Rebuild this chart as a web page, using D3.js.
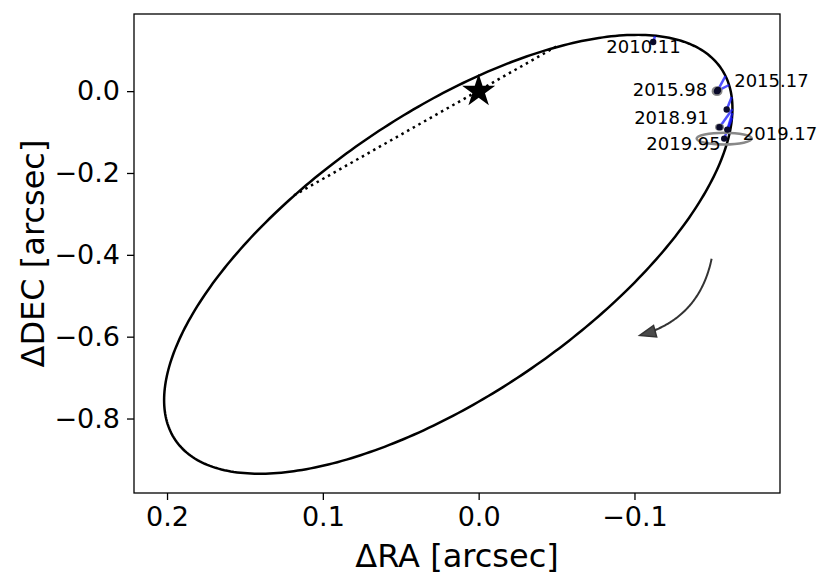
<!DOCTYPE html>
<html>
<head>
<meta charset="utf-8">
<script src="https://cdn.jsdelivr.net/npm/d3@7"></script>
<style>
  html, body { margin: 0; padding: 0; background: #fff; }
  svg { display: block; font-family: "DejaVu Sans", sans-serif; }
</style>
</head>
<body>
<svg id="chart" width="831" height="587"></svg>
<script>
// ---------------- data ----------------
const xLimits = [0.2212, -0.1934];
const yLimits = [0.1885, -0.982];
const xTicks = [0.2, 0.1, 0.0, -0.1];
const yTicks = [0.0, -0.2, -0.4, -0.6, -0.8];
const xLabel = "ΔRA [arcsec]";
const yLabel = "ΔDEC [arcsec]";

// projected orbit (apparent ellipse)
const orbitCenter = [0.0195, -0.3987];   // RA, DEC of ellipse centre
const orbitAxes   = [0.5506, 0.1327];    // semi-major, semi-minor [arcsec]
const orbitPA     = [346.46];            // position angle of major axis [deg]

// line of nodes (dotted)
const nodesRA  = [0.1185, -0.0503];
const nodesDEC = [-0.2545, 0.1100];

// observations
const epochs   = ["2010.11", "2015.17", "2015.98", "", "2018.91", "2019.17", "2019.95"];
const obsRA    = [-0.112, -0.1536, -0.1530, -0.1592, -0.1546, -0.1596, -0.1576];
const obsDEC   = [0.120, 0.003, 0.000, -0.045, -0.088, -0.094, -0.116];
const errRA    = [0.001, 0.002, 0.0027, 0.001, 0.0021, 0.001, 0.0177];
const errDEC   = [0.002, 0.004, 0.0090, 0.002, 0.0057, 0.002, 0.0143];
// predicted positions on the orbit for each epoch
const predRA   = [-0.1132, -0.1584, -0.1607, -0.1624, -0.1629, -0.1628, -0.1626];
const predDEC  = [0.1347, 0.0370, 0.0150, -0.0143, -0.0437, -0.0534, -0.0657];
// label anchor positions (data coordinates)
const labelRA  = [-0.1058, -0.1879, -0.1228, 0, -0.1237, -0.1934, -0.1315];
const labelDEC = [0.1094, 0.0260, 0.0040, 0, -0.0650, -0.1035, -0.1290];

// star position
const starRA = [0.0], starDEC = [0.0];

// direction-of-motion arrow: [from, to]
const arrowRA  = [-0.15, -0.10];
const arrowDEC = [-0.40, -0.60];

// ---------------- drawing ----------------
const svg = d3.select("#chart");
const L = 134, R = 780, T = 14, B = 493;
const x = d3.scaleLinear().domain(xLimits).range([L, R]);
const y = d3.scaleLinear().domain(yLimits).range([T, B]);

const minus = s => s.replace("-", "\u2212");

// orbit ellipse
{
  const pa = orbitPA[0] * Math.PI / 180;
  const e1 = [Math.sin(pa), Math.cos(pa)];
  const e2 = [Math.cos(pa), -Math.sin(pa)];
  const pts = d3.range(0, 2 * Math.PI, Math.PI / 180).map(t => {
    const ra = orbitCenter[0] + orbitAxes[0] * Math.cos(t) * e1[0] + orbitAxes[1] * Math.sin(t) * e2[0];
    const de = orbitCenter[1] + orbitAxes[0] * Math.cos(t) * e1[1] + orbitAxes[1] * Math.sin(t) * e2[1];
    return [x(ra), y(de)];
  });
  svg.append("path")
    .attr("d", d3.line()(pts) + "Z")
    .attr("fill", "none").attr("stroke", "#000").attr("stroke-width", 2.5);
}

// line of nodes
svg.append("line")
  .attr("x1", x(nodesRA[0])).attr("y1", y(nodesDEC[0]))
  .attr("x2", x(nodesRA[1])).attr("y2", y(nodesDEC[1]))
  .attr("stroke", "#000").attr("stroke-width", 2.5)
  .attr("stroke-dasharray", "2.5,4");

// residual lines
epochs.forEach((e, i) => {
  svg.append("line")
    .attr("x1", x(obsRA[i])).attr("y1", y(obsDEC[i]))
    .attr("x2", x(predRA[i])).attr("y2", y(predDEC[i]))
    .attr("stroke", "rgba(20,20,255,0.75)").attr("stroke-width", 2.5);
});

// error ellipses
epochs.forEach((e, i) => {
  svg.append("ellipse")
    .attr("cx", x(obsRA[i])).attr("cy", y(obsDEC[i]))
    .attr("rx", Math.abs(x(errRA[i]) - x(0)))
    .attr("ry", Math.abs(y(errDEC[i]) - y(0)))
    .attr("fill", "none").attr("stroke", "#888").attr("stroke-width", 2.5);
});

// observed points
epochs.forEach((e, i) => {
  svg.append("circle")
    .attr("cx", x(obsRA[i])).attr("cy", y(obsDEC[i])).attr("r", 3.2)
    .attr("fill", "#0a0a2a");
});

// star
svg.append("path")
  .attr("d", d3.symbol().type(d3.symbolStar).size(340)())
  .attr("transform", `translate(${x(starRA[0])},${y(starDEC[0])})`)
  .attr("fill", "#000");

// labels
epochs.forEach((e, i) => {
  if (!e) return;
  svg.append("text")
    .attr("x", x(labelRA[i])).attr("y", y(labelDEC[i]))
    .attr("text-anchor", "middle").attr("dominant-baseline", "central")
    .attr("font-size", 18).attr("fill", "#000")
    .text(e);
});

// arrow (arc3-style quadratic curve)
{
  const x1 = x(arrowRA[0]), y1 = y(arrowDEC[0]);
  const x2 = x(arrowRA[1]), y2 = y(arrowDEC[1]);
  const rad = -0.33;
  const dx = x2 - x1, dyUp = -(y2 - y1);
  const cx = (x1 + x2) / 2 + rad * dyUp;
  const cy = (y1 + y2) / 2 + rad * dx;
  const q = (t) => [
    (1 - t) * (1 - t) * x1 + 2 * (1 - t) * t * cx + t * t * x2,
    (1 - t) * (1 - t) * y1 + 2 * (1 - t) * t * cy + t * t * y2
  ];
  const tipT = 0.96, startT = 0.03;
  const tip = q(tipT);
  const prev = q(tipT - 0.001);
  let ux = tip[0] - prev[0], uy = tip[1] - prev[1];
  const n = Math.hypot(ux, uy); ux /= n; uy /= n;
  const headLen = 16, headW = 6;
  const base = [tip[0] - ux * headLen, tip[1] - uy * headLen];
  let tb = tipT;
  while (tb > 0 && Math.hypot(q(tb)[0] - tip[0], q(tb)[1] - tip[1]) < headLen - 1) tb -= 0.002;
  const pts = d3.range(startT, tb + 1e-9, 0.01).map(q);
  pts.push(q(tb));
  svg.append("path")
    .attr("d", d3.line()(pts))
    .attr("fill", "none").attr("stroke", "#333").attr("stroke-width", 2);
  svg.append("path")
    .attr("d", d3.line()([
      tip,
      [base[0] - uy * headW, base[1] + ux * headW],
      [base[0] + uy * headW, base[1] - ux * headW]
    ]) + "Z")
    .attr("fill", "#4a4a4a").attr("stroke", "#333").attr("stroke-width", 1.5)
    .attr("stroke-linejoin", "miter");
}

// frame
svg.append("rect").attr("x", L).attr("y", T).attr("width", R - L).attr("height", B - T)
  .attr("fill", "none").attr("stroke", "#000").attr("stroke-width", 1.3);

// axes
const xAxis = d3.axisBottom(x).tickValues(xTicks).tickSize(7).tickPadding(7)
  .tickFormat(d => minus(d3.format(".1f")(d)));
const gx = svg.append("g").attr("transform", `translate(0,${B})`).call(xAxis);
const yAxis = d3.axisLeft(y).tickValues(yTicks).tickSize(7).tickPadding(7)
  .tickFormat(d => minus(d3.format(".1f")(d)));
const gy = svg.append("g").attr("transform", `translate(${L},0)`).call(yAxis);
[gx, gy].forEach(g => {
  g.select(".domain").remove();
  g.selectAll(".tick line").attr("stroke", "#000").attr("stroke-width", 1.3);
  g.selectAll(".tick text").attr("fill", "#000")
    .attr("font-family", "DejaVu Sans").attr("font-size", 27);
});

svg.append("text")
  .attr("x", (L + R) / 2).attr("y", 567)
  .attr("text-anchor", "middle").attr("font-size", 32).attr("fill", "#000")
  .text(xLabel);
svg.append("text")
  .attr("transform", `translate(44,${(T + B) / 2}) rotate(-90)`)
  .attr("text-anchor", "middle").attr("font-size", 32).attr("fill", "#000")
  .text(yLabel);
</script>
</body>
</html>
